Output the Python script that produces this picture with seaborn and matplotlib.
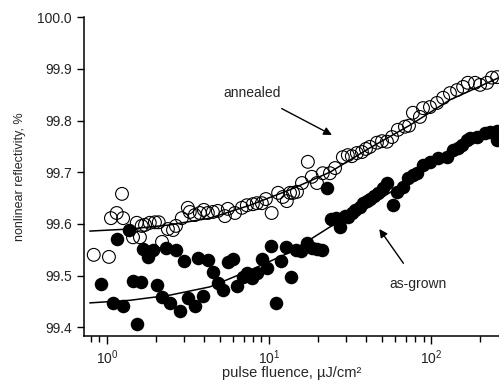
"""
plot.py
Réflectivité non linéaire vs fluence (échantillons recuit / brut).
"""

import numpy as np
import pandas as pd
import matplotlib
matplotlib.use("Agg")
import matplotlib.pyplot as plt
import seaborn as sns

# ---------------------------------------------------------------------
# Données
# ---------------------------------------------------------------------
annealed_fluence = [
    0.83, 1.03, 1.06, 1.15, 1.24, 1.26, 1.45, 1.53, 1.60, 1.64,
    1.72, 1.84, 1.98, 2.09, 2.19, 2.38, 2.56, 2.67, 2.90, 3.16,
    3.25, 3.49, 3.75, 3.97, 4.2, 4.51, 4.84, 5.35, 5.58, 6.17,
    6.81, 7.31, 7.96, 8.43, 9.05, 9.58, 10.4, 11.4, 12.2, 12.9,
    13.5, 14.1, 14.9, 16.0, 17.4, 18.4, 19.8, 21.5, 23.8, 25.6,
    28.6, 30.7, 32.5, 34.9, 37.5, 39.7, 42.0, 46.4, 49.9, 53.5,
    57.5, 62.5, 69.1, 73.2, 77.4, 85.5, 89.3, 98.6, 109, 119,
    131, 145, 158, 169, 187, 201, 222, 238, 256,
]
annealed_refl = [
    99.540, 99.536, 99.611, 99.621, 99.658, 99.611, 99.574, 99.602, 99.574, 99.596,
    99.598, 99.602, 99.603, 99.603, 99.565, 99.590, 99.588, 99.596, 99.611, 99.631,
    99.623, 99.617, 99.621, 99.627, 99.621, 99.623, 99.625, 99.615, 99.629, 99.621,
    99.631, 99.636, 99.638, 99.640, 99.640, 99.648, 99.621, 99.660, 99.652, 99.644,
    99.660, 99.660, 99.662, 99.679, 99.720, 99.691, 99.679, 99.698, 99.698, 99.708,
    99.729, 99.733, 99.731, 99.737, 99.739, 99.745, 99.749, 99.757, 99.760, 99.759,
    99.768, 99.782, 99.788, 99.790, 99.815, 99.807, 99.824, 99.826, 99.834, 99.844,
    99.853, 99.859, 99.865, 99.873, 99.873, 99.869, 99.873, 99.883, 99.884,
]

grown_fluence = [
    0.92, 1.09, 1.15, 1.26, 1.37, 1.45, 1.53, 1.62, 1.67, 1.79,
    1.92, 2.04, 2.19, 2.31, 2.45, 2.67, 2.82, 2.99, 3.16, 3.49,
    3.65, 3.91, 4.2, 4.51, 4.84, 5.2, 5.58, 6.0, 6.34, 6.91,
    7.31, 7.85, 8.43, 9.05, 9.72, 10.3, 11.0, 11.9, 12.7, 13.7,
    14.7, 15.8, 17.2, 18.4, 19.8, 21.2, 22.8, 24.1, 25.9, 27.4,
    29.4, 30.7, 32.5, 34.0, 36.5, 38.0, 40.3, 42.0, 44.5, 47.1,
    50.6, 53.5, 58.2, 61.7, 67.2, 72.1, 77.4, 82.0, 89.3, 98.6,
    110, 126, 137, 147, 155, 167, 174, 192, 215, 231,
    256, 256,
]
grown_refl = [
    99.483, 99.447, 99.571, 99.441, 99.588, 99.489, 99.406, 99.487, 99.551, 99.536,
    99.549, 99.481, 99.458, 99.553, 99.447, 99.549, 99.431, 99.528, 99.456, 99.441,
    99.534, 99.460, 99.530, 99.507, 99.485, 99.472, 99.526, 99.532, 99.479, 99.497,
    99.505, 99.495, 99.505, 99.532, 99.514, 99.557, 99.447, 99.528, 99.555, 99.497,
    99.549, 99.547, 99.563, 99.553, 99.551, 99.549, 99.669, 99.609, 99.611, 99.594,
    99.615, 99.613, 99.621, 99.627, 99.633, 99.640, 99.644, 99.648, 99.654, 99.660,
    99.669, 99.679, 99.636, 99.662, 99.671, 99.689, 99.695, 99.698, 99.714, 99.720,
    99.728, 99.729, 99.743, 99.747, 99.753, 99.762, 99.766, 99.768, 99.776, 99.778,
    99.780, 99.762,
]

# courbes d'ajustement
fit_fluence = [0.785, 1.387, 2.45, 4.32, 7.63, 13.5, 23.8, 42.0, 74.2, 131, 263]
fit_annealed = [99.586, 99.590, 99.598, 99.611, 99.636, 99.666, 99.700, 99.747, 99.791, 99.840, 99.883]
fit_grown = [99.447, 99.452, 99.462, 99.478, 99.510, 99.545, 99.594, 99.636, 99.685, 99.739, 99.786]

y_ticks = [99.4, 99.5, 99.6, 99.7, 99.8, 99.9, 100.0]

# ---------------------------------------------------------------------
# Style
# ---------------------------------------------------------------------
sns.set_style("ticks")
plt.rcParams['font.family'] = ['Liberation Sans', 'DejaVu Sans']
plt.rcParams['mathtext.fontset'] = 'custom'
plt.rcParams['mathtext.rm'] = 'Liberation Sans'
plt.rcParams['mathtext.it'] = 'Liberation Sans'
plt.rcParams['mathtext.default'] = 'regular'

df_ann = pd.DataFrame({"fluence": annealed_fluence, "R": annealed_refl})
df_grw = pd.DataFrame({"fluence": grown_fluence, "R": grown_refl})
df_fit = pd.DataFrame({"fluence": fit_fluence, "ann": fit_annealed, "grw": fit_grown})

fig = plt.figure(figsize=(4.99, 3.82), dpi=100)
ax = fig.add_axes([0.168, 0.120, 0.832, 0.835])

sns.lineplot(data=df_fit, x="fluence", y="ann", color="black", linewidth=1.1, sort=False, ax=ax)
sns.lineplot(data=df_fit, x="fluence", y="grw", color="black", linewidth=1.1, sort=False, ax=ax)

sns.scatterplot(data=df_ann, x="fluence", y="R", marker="o", s=85,
                facecolor="none", edgecolor="black", linewidth=0.8, ax=ax, zorder=3)
sns.scatterplot(data=df_grw, x="fluence", y="R", marker="o", s=95,
                color="black", edgecolor="black", linewidth=0, ax=ax, zorder=3)

ax.set_xscale("log")
ax.set_xlim(0.721, 263)
ax.set_ylim(99.3826, 100.0)
ax.set_yticks(y_ticks)
ax.set_yticklabels([f"{v:.1f}" for v in y_ticks])

ax.tick_params(axis="both", which="major", direction="out", length=5, width=1,
               labelsize=10, color="black", labelcolor="#222222")
ax.tick_params(axis="x", which="major", length=6, pad=3)
ax.tick_params(axis="x", which="minor", direction="out", length=4, width=1, color="black")

ax.set_xlabel("pulse fluence, µJ/cm²", fontsize=10.5)
ax.xaxis.set_label_coords(0.5, -0.095)
ax.set_ylabel("nonlinear reflectivity, %", fontsize=9, labelpad=8)

for side in ["left", "bottom"]:
    ax.spines[side].set_linewidth(1.1)
    ax.spines[side].set_color("black")
sns.despine(ax=ax)

# annotations
ax.annotate("annealed", xy=(24.5, 99.772), xytext=(7.9, 99.853),
            fontsize=10, ha="center", va="center",
            arrowprops=dict(arrowstyle="-|>", color="black", lw=1,
                            mutation_scale=12, shrinkA=8, shrinkB=0))
ax.annotate("as-grown", xy=(48.0, 99.590), xytext=(83.0, 99.484),
            fontsize=10, ha="center", va="center",
            arrowprops=dict(arrowstyle="-|>", color="black", lw=1,
                            mutation_scale=12, shrinkA=9, shrinkB=0))

ax.grid(False)
fig.savefig("out.png", dpi=100)
plt.close(fig)
